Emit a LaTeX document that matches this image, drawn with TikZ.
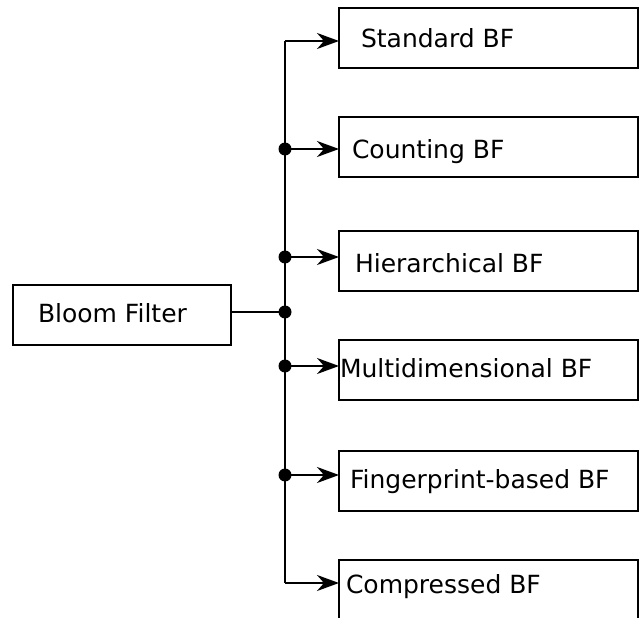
\documentclass[tikz,border=0pt]{standalone}
\usepackage{fontspec}
\setmainfont{DejaVu Sans}
\usetikzlibrary{arrows.meta}
\begin{document}
\begin{tikzpicture}[x=1pt,y=-1pt,
  box/.style={draw, line width=1.6pt, minimum width=299pt, minimum height=60pt, anchor=north west, inner sep=0pt, outer sep=0pt},
  lbl/.style={anchor=base west, inner sep=0pt, outer sep=0pt, font=\fontsize{25}{30}\selectfont},
  wire/.style={line width=1.6pt},
  arr/.style={wire, -{Stealth[length=22pt,width=16pt,inset=7pt]}},
  jdot/.style={circle, fill, inner sep=0pt, minimum size=13pt}]
\useasboundingbox (0,0) rectangle (641,618);
\clip (0,0) rectangle (641,618);
% boxes
\node[box, minimum width=218pt] (bloom) at (13,285) {};
\node[box] (b1) at (339,8) {};
\node[box] (b2) at (339,117) {};
\node[box] (b3) at (339,231) {};
\node[box] (b4) at (339,340) {};
\node[box] (b5) at (339,451) {};
\node[box] (b6) at (339,560) {};
% labels
\node[lbl] (tbloom) at (38,322) {Bloom Filter};
\node[lbl] (t1) at (361,48) {Standard BF};
\node[lbl] (t2) at (352,158) {Counting BF};
\node[lbl] (t3) at (355,272) {Hierarchical BF};
\node[lbl] (t4) at (340,377) {Multidimensional BF};
\node[lbl] (t5) at (350,488) {Fingerprint-based BF};
\node[lbl] (t6) at (346,593) {Compressed BF};
% bus coordinates
\coordinate (c1) at (285,41);
\coordinate (c2) at (285,149);
\coordinate (c3) at (285,257);
\coordinate (hub) at (285,312);
\coordinate (c4) at (285,366);
\coordinate (c5) at (285,475);
\coordinate (c6) at (285,583);
% connectors
\draw[wire] (bloom.east |- hub) -- (hub);
\draw[wire] (c1) -- (c6);
\draw[arr] (c1) -- (c1 -| b1.west);
\draw[arr] (c2) -- (c2 -| b2.west);
\draw[arr] (c3) -- (c3 -| b3.west);
\draw[arr] (c4) -- (c4 -| b4.west);
\draw[arr] (c5) -- (c5 -| b5.west);
\draw[arr] (c6) -- (c6 -| b6.west);
% junction dots
\node[jdot] (d2) at (c2) {};
\node[jdot] (d3) at (c3) {};
\node[jdot] (dh) at (hub) {};
\node[jdot] (d4) at (c4) {};
\node[jdot] (d5) at (c5) {};
\end{tikzpicture}
\end{document}
